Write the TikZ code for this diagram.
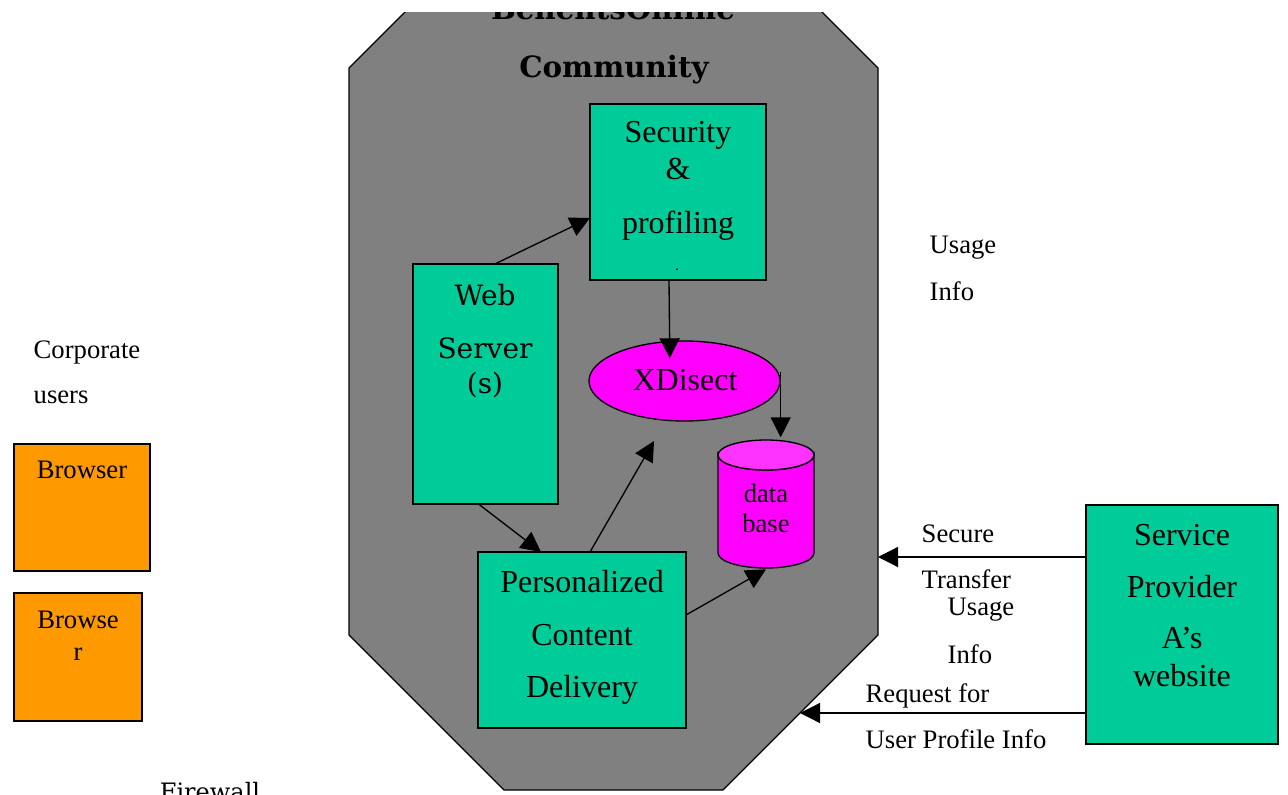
\documentclass[tikz,border=0pt]{standalone}
\usepackage{fontspec}
\setmainfont{Liberation Serif}
\newfontfamily\serifdeja{DejaVu Serif}
\usetikzlibrary{arrows.meta,shapes.geometric}
\definecolor{gris}{HTML}{808080}
\definecolor{vert}{HTML}{00CC99}
\definecolor{orange}{HTML}{FF9900}
\definecolor{mauve}{HTML}{FF00FF}
\definecolor{rose}{HTML}{FF33FF}
\begin{document}
\begin{tikzpicture}[x=0.75pt, y=-0.75pt, line width=1pt,
  boite/.style={draw, rectangle, inner sep=0pt, outer sep=0pt},
  txt/.style={anchor=base, inner sep=0pt, font=\fontsize{24}{28}\selectfont},
  petit/.style={anchor=base, inner sep=0pt, font=\fontsize{20}{24}\selectfont},
  gauche/.style={petit, anchor=base west},
  large/.style={anchor=base, inner sep=0pt, font=\serifdeja\fontsize{21}{25}\selectfont},
  titre/.style={anchor=base, inner sep=0pt, font=\serifdeja\bfseries\fontsize{22}{26}\selectfont},
  fleche/.style={-{Triangle[length=15pt, width=15pt]}}]
\useasboundingbox (0,0) rectangle (1288,795);
% Communaute
\begin{scope}
\clip (0,13) rectangle (1288,800);
\draw [fill=gris] (504,-87) -- (723,-87) -- (878,68) -- (878,635) -- (723,790)
  -- (504,790) -- (349,635) -- (349,68) -- cycle;
\node [titre] (titre1) at (613,20) {BenefitsOnline};
\node [titre] (titre2) at (614,78) {Community};
\end{scope}
\coordinate (entreeA) at (878,557);
\coordinate (entreeB) at (800,713);
% Boites
\node [boite, fill=vert, minimum width=132pt, minimum height=132pt] (sec) at (678,192) {};
\node [txt] (sec1) at (678,143) {Security};
\node [txt] (sec2) at (678,180) {\&};
\node [txt] (sec3) at (678,233) {profiling};
\node [anchor=base, inner sep=0pt, font=\fontsize{12}{14}\selectfont] (sec4) at (677,270) {.};
\node [boite, fill=vert, minimum width=108.75pt, minimum height=180pt] (web) at (485.5,384) {};
\node [large] (web1) at (485,305) {Web};
\node [large] (web2) at (485,358) {Server};
\node [large] (web3) at (485,393) {(s)};
\node [draw, ellipse, fill=mauve, inner sep=0pt, minimum width=143.25pt, minimum height=60pt] (xd) at (684.5,381) {};
\node [txt] (xd1) at (685,390) {XDisect};
% Base de donnees
\node [rectangle, inner sep=0pt, outer sep=0pt, minimum width=72pt, minimum height=96pt] (db) at (766,504) {};
\draw [fill=mauve] (718,455) -- (718,553) arc [start angle=180, end angle=360, x radius=36pt, y radius=11.25pt]
  -- (814,455) arc [start angle=0, end angle=-180, x radius=36pt, y radius=11.25pt] -- cycle;
\draw [fill=rose] (766,455) ellipse [x radius=36pt, y radius=11.25pt];
\node [petit] (db1) at (766,502) {data};
\node [petit] (db2) at (766,532) {base};
\node [boite, fill=vert, minimum width=156pt, minimum height=132pt] (pcd) at (582,640) {};
\node [txt] (pcd1) at (582,592) {Personalized};
\node [txt] (pcd2) at (582,645) {Content};
\node [txt] (pcd3) at (582,697) {Delivery};
\node [boite, fill=vert, minimum width=144pt, minimum height=179.25pt] (sp) at (1182,624.5) {};
\node [txt] (sp1) at (1182,545) {Service};
\node [txt] (sp2) at (1182,597) {Provider};
\node [txt] (sp3) at (1182,648) {A’s};
\node [txt] (sp4) at (1182,686) {website};
% Navigateurs
\node [boite, fill=orange, minimum width=102pt, minimum height=95.25pt] (nav1) at (82,507.5) {};
\node [petit] (nav1a) at (82,478) {Browser};
\node [boite, fill=orange, minimum width=96pt, minimum height=96pt] (nav2) at (78,657) {};
\node [petit] (nav2a) at (78,628) {Browse};
\node [petit] (nav2b) at (78,660) {r};
% Textes
\node [gauche] (corp1) at (33,358) {Corporate};
\node [gauche] (corp2) at (33,403) {users};
\node [gauche] (usage1) at (929,253) {Usage};
\node [gauche] (usage2) at (929,300) {Info};
\node [gauche] (sec5) at (921,542) {Secure};
\node [gauche] (sec6) at (921,588) {Transfer};
\node [gauche] (sec7) at (947,615) {Usage};
\node [gauche] (sec8) at (947,663) {Info};
\node [gauche] (req1) at (865,702) {Request for};
\node [gauche] (req2) at (865,748) {User Profile Info};
\node [anchor=base, inner sep=0pt, font=\serifdeja\fontsize{18}{22}\selectfont] (feu) at (210,800) {Firewall};
% Fleches
\coordinate (vide) at (654,441);
\draw [fleche] ([xshift=7pt]web.north) -- ([yshift=-19.5pt]sec.west);
\draw [fleche] ([xshift=-6.75pt]sec.south) -- ([xshift=-11pt, yshift=-13.5pt]xd.north);
\draw [fleche] ([yshift=6.75pt]xd.east) -- ([yshift=2pt]xd.east |- db.north);
\draw [fleche] ([xshift=-5.25pt]web.south) -- ([xshift=-30.75pt]pcd.north);
\draw [fleche] ([xshift=6pt]pcd.north) -- (vide);
\draw [fleche] ([yshift=18.75pt]pcd.east) -- ([yshift=-1pt]db.south);
\draw [fleche] (sp.west |- entreeA) -- (entreeA);
\draw [fleche] (sp.west |- entreeB) -- (entreeB);
\end{tikzpicture}
\end{document}
